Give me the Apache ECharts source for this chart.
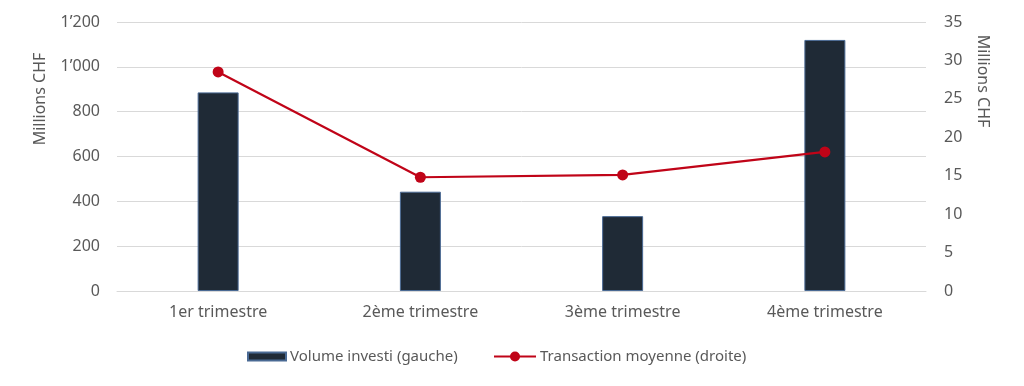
<!DOCTYPE html>
<html><head><meta charset="utf-8">
<script src="https://cdn.jsdelivr.net/npm/echarts@6/dist/echarts.min.js"></script>
<style>html,body{margin:0;padding:0;background:#fff}#c{width:1024px;height:386px}</style>
</head><body><div id="c"></div>
<script>
const categories = ['1er trimestre', '2ème trimestre', '3ème trimestre', '4ème trimestre'];
const volumeInvesti = [886, 443, 334, 1120];
const transactionMoyenne = [28.5, 14.8, 15.1, 18.1];
const seriesNames = ['Volume investi (gauche)', 'Transaction moyenne (droite)'];
const axisName = 'Millions CHF';

const FONT = 'Noto Sans';
const TXT = '#595959';
const chart = echarts.init(document.getElementById('c'));
function fmtLeft(v){ return String(v).replace(/\B(?=(\d{3})+(?!\d))/g, '\u2019'); }
const legendText = {color: TXT, fontSize: 15, fontFamily: FONT, padding: [0,0,0,-1]};
chart.setOption({
  animation: false,
  textStyle: {fontFamily: FONT},
  grid: {left: 117, right: 98, top: 22, bottom: 95},
  legend: [
    {data: [{name: seriesNames[0], icon: 'rect'}], left: 247, top: 349, padding: 0,
     itemWidth: 38, itemHeight: 8, textStyle: legendText},
    {data: [seriesNames[1]], left: 493, top: 349, padding: 0,
     itemWidth: 42, itemHeight: 12.5, textStyle: legendText}
  ],
  xAxis: {
    type: 'category', data: categories,
    axisLine: {lineStyle: {color: '#d9d9d9'}}, axisTick: {show: false},
    axisLabel: {color: TXT, fontSize: 16, margin: 13, fontFamily: FONT}
  },
  yAxis: [
    {type: 'value', min: 0, max: 1200, interval: 200,
     axisLine: {show: false}, axisTick: {show: false},
     splitLine: {lineStyle: {color: '#d9d9d9', width: 1}},
     axisLabel: {color: TXT, fontSize: 16, margin: 17, formatter: fmtLeft, fontFamily: FONT}},
    {type: 'value', min: 0, max: 35, interval: 5,
     axisLine: {show: false}, axisTick: {show: false}, splitLine: {show: false},
     axisLabel: {color: TXT, fontSize: 16, margin: 18, fontFamily: FONT}}
  ],
  graphic: [
    {type: 'text', x: 40, y: 99, rotation: Math.PI/2,
     style: {text: axisName, fill: TXT, font: '16px "Noto Sans"', align: 'center', verticalAlign: 'middle'}},
    {type: 'text', x: 983, y: 81, rotation: -Math.PI/2,
     style: {text: axisName, fill: TXT, font: '16px "Noto Sans"', align: 'center', verticalAlign: 'middle'}}
  ],
  series: [
    {name: seriesNames[0], type: 'bar', data: volumeInvesti, yAxisIndex: 0, barWidth: 41,
     itemStyle: {color: '#1f2a36', borderColor: '#4a6a94', borderWidth: 1}},
    {name: seriesNames[1], type: 'line', data: transactionMoyenne, yAxisIndex: 1,
     symbol: 'circle', symbolSize: 11,
     lineStyle: {color: '#c00418', width: 2.2}, itemStyle: {color: '#c00418'}}
  ]
});
</script></body></html>
